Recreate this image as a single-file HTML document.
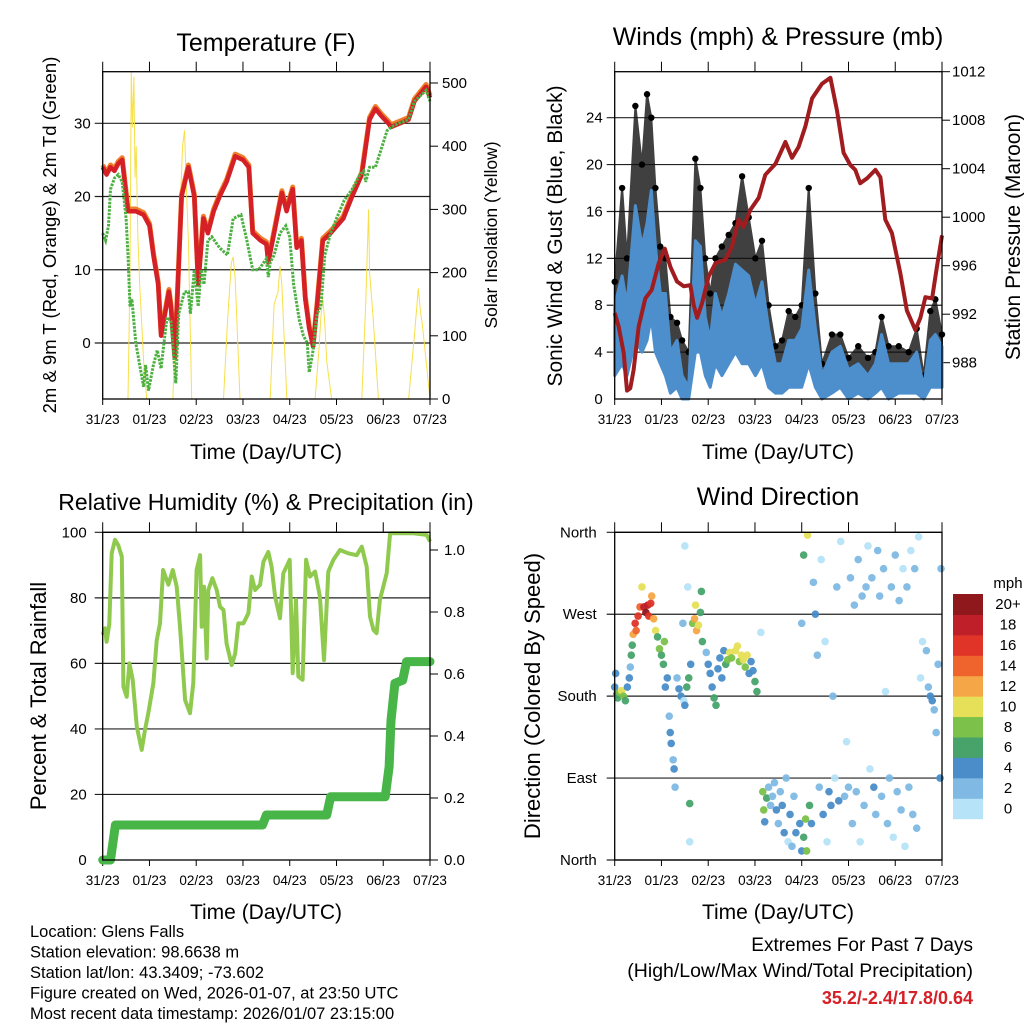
<!DOCTYPE html>
<html><head><meta charset="utf-8"><style>
html,body{margin:0;padding:0;background:#fff}
svg{display:block;font-family:"Liberation Sans",Arial,sans-serif}
</style></head><body>
<svg id="s" width="1024" height="1024" viewBox="0 0 1024 1024" xmlns="http://www.w3.org/2000/svg"></svg>
<script>
// ---------- DATA ----------
const dayLabels=["31/23","01/23","02/23","03/23","04/23","05/23","06/23","07/23"];
// Temperature
const tTimes=[0,2,4,6,8,10,13,17,21,24,26,28.5,30,34,35,37,40.5,44,47,49,51.7,54,57,60,63.6,68,72,75,77,81,84,85,88,92,94.4,97.5,99.6,102,104,106,108,110,113,117,123.5,128,133,137,140,143,146.6,148,152.6,157,160,166,168];
const tRed=[24,23,24,23.5,24.5,25,18,18,17.5,16,12,8,1,7,5,-2,20,24,20,8,17,15,18,20,22,25.5,25,24,15,14,13.5,11,15,20.5,18,21,13,14,6,2,-0.5,5,14,15,17,20,23,30.5,32,31,30,29.5,30,30.5,33,35,33.5];
const tdTimes=[0,1.5,3,4,6,8,10,12,13,14,15,17,19,21,22,23.5,26,28,30,31,33,35,36.5,37.5,39,42,44,45,47,49,50.5,52,54,56,60,64,67,71,74,77,80,84,85,86,88,91,94,96,98,101,103,105,106,108,110,112,114,117,120,124,128,132,134,135,137,140,143,146,148,152,157,160,166,168];
const tDew=[15,14,16,21,22.5,23,22,17,12,5,6,0,-3,-6,-3,-6.5,-3,-1,-3.5,-1,3.5,3,-2,-5.5,4,7,7,4,10,5,10,8,14,14.5,13,12,17,17.5,14,10,10,11.5,9,11,12,15,16,14.5,8,3,1,0,-4,-1,4,5,12,15,17,19.5,21,23,23.5,22,24,24,26.5,29,29.5,30,30.5,33,34.5,33];
const solarTimes=[0,13,14,14.7,15.3,16,16.6,17.2,18,19,20,21,22.6,36,38,40,41,42,43,44,45.7,62,64,66,67,68,70.5,86,88,90,91,92,94.5,109,111,112,113,114,115,117.5,133,135,136.5,137,138,139,141.5,157,160,162,163,164,166,168];
const solarVals=[0,0,200,520,430,510,350,400,260,180,120,60,0,0,150,320,400,425,330,250,0,0,120,215,225,190,0,0,150,170,210,180,0,0,80,130,160,120,60,0,0,150,300,200,160,120,0,0,100,175,140,120,60,0];
// Winds
const wTimes=[0,3.8,6.3,10.6,14,16.6,18.8,20.9,23.4,26,28.6,32,34.6,38,41.4,44,46.5,49,51.7,55,58.5,62,65.4,68.8,72.2,75.6,79,82.5,85.9,89.3,92.7,96,99.6,103,106.4,111.5,115.8,120,125,130,133.8,137,140.6,145.8,150.9,155,158.6,162,164.6,168];
const windHi=[8,10.5,8,16.5,13,15,17.8,13,9,9,4,5,2,1,13.5,13,7,5,9,7,9,11.5,11,10.5,8,10,6,3,3,5,5,6,11,6,2,4,4.5,2.5,3,2,3,5.5,3,3,3,4,1,5,5.5,4.5];
const windLo=[2,3,2,5,4,5,7,4,3,2,0.5,1,0,0,4,4,2,1,3,2,3,4,3,3,2,3,1,0.5,0.5,1,1,1,3,1,0,0.5,1,0,0.5,0,0.5,1,0,0.5,0.5,0.5,0,1,1,1];
const gust=[10,18,12,25,20,26,24,18,13,12,7,6.5,5,4,20.5,18,12,9,12,13,14,15,19,15.5,12,13.5,8,4.5,5,7.5,7,8,18,9,3,5.5,5.5,3.5,4.5,3.5,4,7,4.5,4.5,4,6,2,7.5,8.5,5.5];
const pTimes=[0,2,4.6,6.3,8,9.7,12.3,15.7,19,22.6,25.7,28.6,32,35.4,38.8,40.5,42.3,44.8,48.2,51.7,56.8,60.2,63.6,66.2,69.6,73.9,77.3,82.5,87.6,91,94.4,97.9,101.3,106.4,110.7,114.1,117.5,121,123.5,126,129.5,133.8,136.4,138.9,142.3,146.6,150,154.3,156.9,159.5,162.9,165.4,168];
const pVals=[992.1,991,988.8,985.7,985.9,987.4,991,993.3,994,996.2,997.4,995.9,994.7,994.3,994.4,992.8,991.7,992.9,995.1,996.2,996.5,997.6,999.8,999.2,1000.6,1001.6,1003.5,1004.4,1006.2,1004.9,1005.8,1007.5,1009.8,1011,1011.5,1008.8,1005.3,1004.3,1003.9,1002.8,1003.2,1003.9,1003.3,999.8,998.7,995.4,992.3,990.7,991.7,993.4,993.3,995.9,998.5];
// RH & rain
const rhTimes=[0,1.2,2,3.4,4.6,6.3,8,9.8,10.6,12.3,13.7,15.4,17.5,20,21.7,23.4,26,27.7,29.4,31,33.7,36,38,39.7,42.3,44.8,46.5,48.2,50,50.8,52,53.4,54.2,56.3,58.5,60.2,62,63.6,66.2,68,69.6,72.2,74.8,76.5,78.2,80.8,82.5,85,86.7,88.5,91,92.7,96,97.5,99.2,100.4,102.6,104.4,106.4,109,111.5,113.6,115.8,118.4,121.8,126,130.4,133,135.5,137.2,139,140.6,142.3,145.8,147.5,152.6,159.5,166.3,168];
const rhVals=[68.7,70.7,66.6,72,93.6,97.7,96,92.6,52.9,49.8,60,55,40.7,33.6,39.7,44.8,54,67,72.2,88.5,84,88.5,83.4,71.2,48.8,44.8,54,88.5,93,71.2,83.4,61.5,82.4,86,82.4,77.3,76.3,66,59.5,63,72.2,72.2,75.3,86.5,82.4,84,91,94,89.5,80.4,73.8,87.5,91.6,57,79.4,56,55,91.6,86.5,88,80.4,61,88,91.6,94.6,93.6,93,95.6,89.5,74.3,70.2,69.2,79.4,87.5,99.7,99.7,99.7,99.2,97.2];
const rainTimes=[0,4,6.5,10,82,84,115,117,119,145,147,148,150,154,156,168];
const rainVals=[0,0,0.113,0.113,0.113,0.145,0.145,0.204,0.204,0.204,0.3,0.45,0.57,0.58,0.64,0.64];
// Wind direction
const dirTimes=[0,0.5,1,1.5,2.5,3.5,4.5,5.5,6.5,7.5,8,8.5,9,9.5,10.5,11,12,13,14,15,16,17,17.5,18.5,19,20,21,22,23,24,25,25.5,26,27,28,28.5,29,30,30.5,31,32,33,34,35,35.5,36,37,38,38.5,39,40,41,41.5,42,43,44,44.5,45,36,37.5,38.5,47,48,49,50,51,52,53,54,55,56,57,58,59,60,62,63,64,65,66,67,68,69,70,71,72,73,75,76,76.5,77,78,79,80,81,82,83,84,85,86,87,88,89,90,91,92,93,95,96,97,98,98.5,99,97,96,100,101,102,103,104,105,106,107,108,109,110,111,112,113,114,115,116,118,119,120,121,122,123,124,125,126,127,128,129,130,131,132,133,134,135,136,137,138,139,140,141,142,143,144,145,146,147,148,149,150,151,152,153,154,155,156,157,158,160,161,162,163,164,165,166,167,167.5];
const dirDeg=[190,205,182,178,184,186,180,175,190,200,212,225,236,248,260,252,268,278,300,278,272,280,268,282,290,265,252,245,232,225,215,240,190,200,158,140,128,110,100,80,200,188,180,260,175,170,190,200,62,215,260,265,280,252,258,272,295,240,345,300,20,228,215,205,190,178,170,210,222,200,230,215,220,228,222,230,235,218,225,220,212,225,205,218,208,196,185,250,75,55,42,68,80,60,70,85,55,40,75,60,30,90,20,50,15,70,30,40,10,25,45,10,357,335,260,60,40,305,270,225,80,330,50,240,20,75,60,180,90,300,65,350,70,130,80,310,40,280,75,330,20,290,60,300,345,100,310,80,50,340,290,70,320,185,40,90,300,25,335,75,285,55,320,15,300,80,340,50,320,35,355,200,240,230,190,180,175,165,140,215,90,320];
const dirSpeed=[4,4,6,7,9,10,8,6,5,4,3,6,7,12,16,14,17,15,11,18,20,19,17,16,13,12,10,7,8,7,6,9,4,5,3,4,4,3,4,2,3,4,4,3,1,5,6,6,6,4,8,12,10,13,11,7,6,6,1,1,1,2,4,4,5,6,7,4,4,4,5,6,8,10,9,10,11,8,10,11,9,10,4,5,4,6,7,1,9,8,4,6,3,2,3,2,4,3,2,4,4,2,1,5,3,3,4,5,5,7,8,8,10,7,2,6,5,2,4,2,3,1,4,1,1,4,4,2,1,3,4,1,2,1,2,2,3,2,2,2,1,3,2,2,1,1,3,4,3,2,2,2,3,1,2,3,2,1,2,3,2,2,1,1,3,3,1,2,2,2,1,1,1,3,3,4,4,3,2,2,4,2];
const speedColors=["#b6e3f8","#7fb9e4","#4a8dc8","#47a36a","#7bc14a","#e6df58","#f5a646","#ef632c","#df3427","#bf1f29","#8f181c"];
const speedLabels=["0","2","4","6","8","10","12","14","16","18","20+"];

// ---------- HELPERS ----------
const NS="http://www.w3.org/2000/svg";
const svg=document.getElementById('s');
function mk(tag,attrs,parent){const e=document.createElementNS(NS,tag);for(const k in attrs)e.setAttribute(k,attrs[k]);(parent||svg).appendChild(e);return e;}
function txt(x,y,s,size,anchor,name,extra){const e=mk('text',Object.assign({x:x,y:y,'font-size':size,'text-anchor':anchor||'middle',fill:'#000'},extra||{}));e.textContent=s;


return e;}
function lin(d0,d1,r0,r1){return v=>r0+(v-d0)*(r1-r0)/(d1-d0);}
function path(xs,ys,fx,fy){return xs.map((t,i)=>(i?'L':'M')+fx(t).toFixed(1)+' '+fy(ys[i]).toFixed(1)).join(' ');}

function frame(L,R,T,B,name){
  const g=mk('g',{});
  
  
  const fx=lin(0,168,L,R);
  for(let d=0;d<8;d++){const x=fx(d*24);
    mk('line',{x1:x,y1:T-10,x2:x,y2:T,stroke:'#000','stroke-width':1},g);
    mk('line',{x1:x,y1:B,x2:x,y2:B+6,stroke:'#000','stroke-width':1},g);
    txt(x,B+25,dayLabels[d],13.5,'middle','x-tick-label');
  }
  return {g,fx};
}
function hgrid(y,L,R){const l=mk('line',{x1:L-8,y1:y,x2:R,y2:y,stroke:'#222','stroke-width':1.2});

}
function border(L,R,T,B,name){const r=mk('rect',{x:L,y:T,width:R-L,height:B-T,fill:'none',stroke:'#000','stroke-width':1.3});

}

// ---------- PANEL 1: TEMPERATURE ----------
(function(){
  const L=102.7,R=430,T=71.7,B=399;
  const f=frame(L,R,T,B,'temperature-panel');const fx=f.fx;
  const fy=lin(0,30,343,123.3);const fs=lin(0,500,399,83);
  [0,10,20,30].forEach(v=>{hgrid(fy(v),L,R);txt(L-12,fy(v)+5,String(v),15,'end','temp-y-tick');});
  [0,100,200,300,400,500].forEach(v=>{mk('line',{x1:R,y1:fs(v),x2:R+8,y2:fs(v),stroke:'#000'});txt(R+12,fs(v)+5,String(v),15,'start','solar-y-tick');});
  const cp=mk('clipPath',{id:'c1'});mk('rect',{x:L,y:T,width:R-L,height:B-T},cp);
  const s=mk('path',{d:path(solarTimes,solarVals,fx,fs),fill:'none',stroke:'#f7df4a','stroke-width':1,'clip-path':'url(#c1)'});
  
  
  const o=mk('path',{d:path(tTimes,tRed.map(v=>v+0.3),fx,fy),fill:'none',stroke:'#f07f2a','stroke-width':5,'stroke-linejoin':'round'});
  
  
  const r=mk('path',{d:path(tTimes,tRed,fx,fy),fill:'none',stroke:'#d42026','stroke-width':4.5,'stroke-linejoin':'round'});
  
  
  const g=mk('path',{d:path(tdTimes,tDew,fx,fy),fill:'none',stroke:'#4bb040','stroke-width':3,'stroke-dasharray':'2.5 1.2'});
  
  
  border(L,R,T,B,'temperature-plot-area');
  txt(266,51,'Temperature (F)',25,'middle','temperature-title');
  txt(266,459,'Time (Day/UTC)',21,'middle','temperature-x-title');
  txt(0,0,'2m & 9m T (Red, Orange) & 2m Td (Green)',18.5,'middle','temperature-y-title',{transform:'translate(56,235) rotate(-90)'});
  txt(0,0,'Solar Insolation (Yellow)',17.5,'middle','solar-y-title',{transform:'translate(497,235) rotate(-90)'});
})();

// ---------- PANEL 2: WINDS ----------
(function(){
  const L=614.7,R=942,T=71.7,B=399;
  const f=frame(L,R,T,B,'winds-panel');const fx=f.fx;
  const fy=lin(0,24,399,117.7);const fp=lin(988,1012,362.7,71.7);
  [4,8,12,16,20,24].forEach(v=>hgrid(fy(v),L,R));
  [0,4,8,12,16,20,24].forEach(v=>txt(L-12,fy(v)+5,String(v),15,'end','wind-y-tick'));
  [988,992,996,1000,1004,1008,1012].forEach(v=>{mk('line',{x1:R,y1:fp(v),x2:R+8,y2:fp(v),stroke:'#000'});txt(R+10,fp(v)+5,String(v),15,'start','pressure-y-tick');});
  const up=wTimes.map((t,i)=>fx(t).toFixed(1)+','+fy(gust[i]).toFixed(1));
  const dn=wTimes.map((t,i)=>fx(t).toFixed(1)+','+fy(windLo[i]+ (windHi[i]-windLo[i])*0.6).toFixed(1)).reverse();
  const gb=mk('polygon',{points:up.concat(dn).join(' '),fill:'#111',opacity:0.8,stroke:'#111','stroke-width':2});
  
  
  wTimes.forEach((t,i)=>{const c=mk('circle',{cx:fx(t),cy:fy(gust[i]),r:3.2,fill:'#000'});
    
    });
  const bu=wTimes.map((t,i)=>fx(t).toFixed(1)+','+fy(windHi[i]).toFixed(1));
  const bd=wTimes.map((t,i)=>fx(t).toFixed(1)+','+fy(windLo[i]).toFixed(1)).reverse();
  const wb=mk('polygon',{points:bu.concat(bd).join(' '),fill:'#4d8fcd',stroke:'#4d8fcd','stroke-width':3,'stroke-linejoin':'round'});
  
  
  const p=mk('path',{d:path(pTimes,pVals,fx,fp),fill:'none',stroke:'#a01c1f','stroke-width':4,'stroke-linejoin':'round'});
  
  
  border(L,R,T,B,'winds-plot-area');
  txt(778,45,'Winds (mph) & Pressure (mb)',25,'middle','winds-title');
  txt(778,459,'Time (Day/UTC)',21,'middle','winds-x-title');
  txt(0,0,'Sonic Wind & Gust (Blue, Black)',21,'middle','wind-y-title',{transform:'translate(562,236) rotate(-90)'});
  txt(0,0,'Station Pressure (Maroon)',21,'middle','pressure-y-title',{transform:'translate(1020,237) rotate(-90)'});
})();

// ---------- PANEL 3: RH ----------
(function(){
  const L=102.7,R=430,T=532.3,B=860;
  const f=frame(L,R,T,B,'humidity-panel');const fx=f.fx;
  const fy=lin(0,100,860,532.3);const fr=lin(0,1,860,550);
  [20,40,60,80,100].forEach(v=>hgrid(fy(v),L,R));
  [0,20,40,60,80,100].forEach(v=>txt(L-16,fy(v)+5,String(v),15,'end','rh-y-tick'));
  [0,0.2,0.4,0.6,0.8,1.0].forEach(v=>{mk('line',{x1:R,y1:fr(v),x2:R+8,y2:fr(v),stroke:'#000'});txt(R+14,fr(v)+5,v.toFixed(1),15,'start','rain-y-tick');});
  const h=mk('path',{d:path(rhTimes,rhVals,fx,fy),fill:'none',stroke:'#8fca4f','stroke-width':4,'stroke-linejoin':'round'});
  
  
  const rn=mk('path',{d:path(rainTimes,rainVals,fx,fr),fill:'none',stroke:'#48b548','stroke-width':9,'stroke-linecap':'round','stroke-linejoin':'round'});
  
  
  border(L,R,T,B,'humidity-plot-area');
  txt(266,510,'Relative Humidity (%) & Precipitation (in)',23,'middle','humidity-title');
  txt(266,919,'Time (Day/UTC)',21,'middle','humidity-x-title');
  txt(0,0,'Percent & Total Rainfall',22,'middle','rh-y-title',{transform:'translate(46,696) rotate(-90)'});
})();

// ---------- PANEL 4: WIND DIRECTION ----------
(function(){
  const L=614.7,R=942,T=532.3,B=860;
  const f=frame(L,R,T,B,'direction-panel');const fx=f.fx;
  const fy=lin(0,360,860,532.3);
  const names=['North','East','South','West','North'];
  [0,90,180,270,360].forEach((v,i)=>{hgrid(fy(v),L,R);txt(L-18,fy(v)+5,names[i],15,'end','direction-tick');});
  dirTimes.forEach((t,i)=>{const ci=Math.min(10,Math.floor(dirSpeed[i]/2));
    const c=mk('circle',{cx:fx(t),cy:fy(dirDeg[i]),r:3.8,fill:speedColors[ci],opacity:0.95});
    
    });
  border(L,R,T,B,'direction-plot-area');
  txt(778,505,'Wind Direction',25,'middle','direction-title');
  txt(778,919,'Time (Day/UTC)',21,'middle','direction-x-title');
  txt(0,0,'Direction (Colored By Speed)',22,'middle','direction-y-title',{transform:'translate(540,696) rotate(-90)'});
  const cbT=594,cbB=818.7,bh=(cbB-cbT)/11;
  speedColors.forEach((c,i)=>{const r=mk('rect',{x:953,y:cbB-(i+1)*bh,width:30,height:bh+0.5,fill:c});
    
    
    txt(1008,cbB-(i+0.5)*bh+5,speedLabels[i],15,'middle','colorbar-label');});
  txt(1008,588,'mph',15,'middle','colorbar-title');
})();

// ---------- FOOTER TEXT ----------
const info=["Location: Glens Falls","Station elevation: 98.6638 m","Station lat/lon: 43.3409; -73.602","Figure created on Wed, 2026-01-07, at 23:50 UTC","Most recent data timestamp: 2026/01/07 23:15:00"];
info.forEach((s,i)=>txt(30,937+i*20.5,s,16.5,'start','station-info-line'));
txt(973,951,'Extremes For Past 7 Days',19,'end','extremes-heading');
txt(973,977,'(High/Low/Max Wind/Total Precipitation)',19.5,'end','extremes-subheading');
txt(973,1004,'35.2/-2.4/17.8/0.64',18,'end','extremes-values',{fill:'#d42026','font-weight':'bold'});
</script>
</body></html>
